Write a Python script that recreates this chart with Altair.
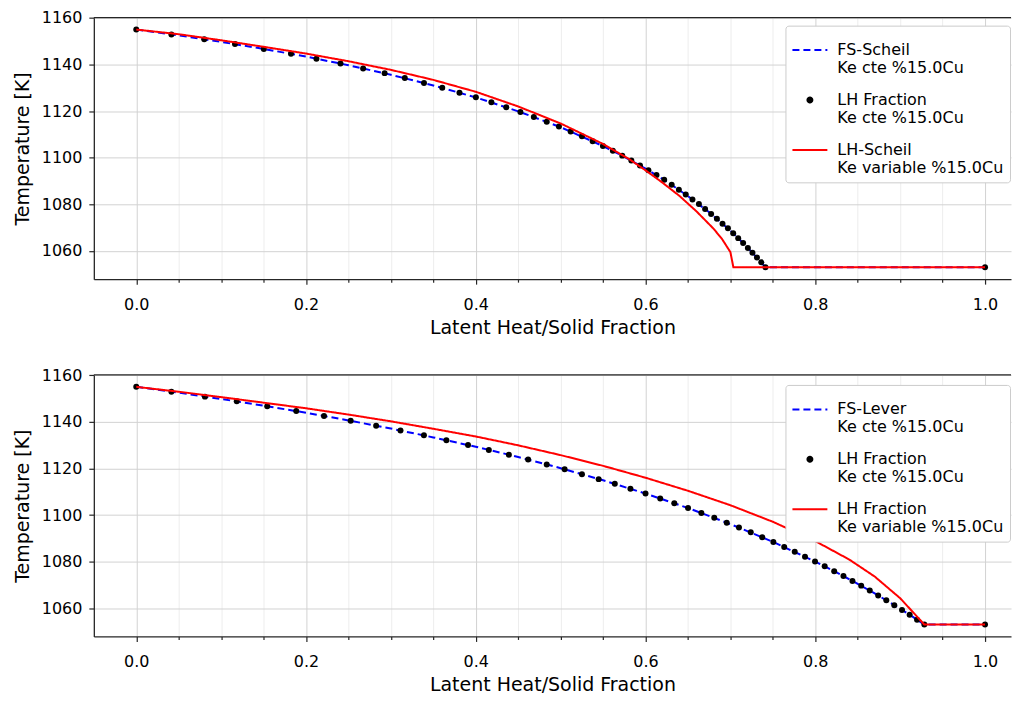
import json
import altair as alt
import pandas as pd

# ---------------- data ----------------
SERIES = ["a", "b", "c"]                      # blue dashed, black dots, red solid
COLORS = ["#0000ff", "#000000", "#ff0000"]

# temperatures of the "LH Fraction / Ke cte" dots (shared by both panels)
DOT_T = [1155.0, 1152.9, 1150.8, 1148.8, 1146.7, 1144.6, 1142.5, 1140.4, 1138.3, 1136.3,
         1134.2, 1132.1, 1130.0, 1127.9, 1125.9, 1123.8, 1121.7, 1119.6, 1117.5, 1115.4,
         1113.4, 1111.3, 1109.2, 1107.1, 1105.0, 1103.0, 1100.9, 1098.8, 1096.7, 1094.6,
         1092.6, 1090.5, 1088.4, 1086.3, 1084.2, 1082.1, 1080.1, 1078.0, 1075.9, 1073.8,
         1071.7, 1069.7, 1067.6, 1065.5, 1063.4, 1061.3, 1059.2, 1057.2, 1055.1, 1053.0,
         1053.0]

# top panel (Scheil)
TOP_DOT_FS = [0.0, 0.0414, 0.0801, 0.1163, 0.1503, 0.1823, 0.2123, 0.2406, 0.2673, 0.2926,
              0.3164, 0.3390, 0.3605, 0.3808, 0.4001, 0.4184, 0.4359, 0.4526, 0.4684, 0.4836,
              0.4980, 0.5118, 0.5251, 0.5377, 0.5498, 0.5615, 0.5726, 0.5833, 0.5935, 0.6034,
              0.6129, 0.6220, 0.6308, 0.6393, 0.6474, 0.6553, 0.6629, 0.6702, 0.6773, 0.6841,
              0.6907, 0.6971, 0.7033, 0.7092, 0.7150, 0.7206, 0.7260, 0.7313, 0.7364, 0.7413,
              1.0]
TOP_BLUE_FS = [0.0, 0.05, 0.10, 0.15, 0.20, 0.25, 0.30, 0.35, 0.40, 0.45, 0.50, 0.55,
               0.575, 0.60, 0.625, 0.65, 0.675, 0.70, 0.71, 0.72, 0.73, 0.7413, 1.0]
TOP_BLUE_T = [1155.0, 1152.5, 1149.7, 1146.7, 1143.4, 1139.7, 1135.6, 1131.0, 1125.9, 1119.9,
              1113.1, 1105.0, 1100.4, 1095.3, 1089.8, 1083.5, 1076.6, 1068.7, 1065.2, 1061.5,
              1057.6, 1053.0, 1053.0]
TOP_RED_FS = [0.0, 0.05, 0.10, 0.15, 0.20, 0.25, 0.30, 0.35, 0.40, 0.45, 0.50, 0.55,
              0.58, 0.60, 0.62, 0.64, 0.66, 0.68, 0.69, 0.70, 0.7035, 1.0]
TOP_RED_T = [1155.0, 1153.0, 1150.4, 1147.6, 1144.7, 1141.4, 1137.7, 1133.4, 1128.3, 1122.0,
             1114.7, 1105.9, 1099.6, 1094.6, 1089.3, 1083.6, 1077.0, 1069.6, 1065.2, 1059.5,
             1053.0, 1053.0]

# bottom panel (Lever)
BOT_DOT_FS = [0.0, 0.0414, 0.0809, 0.1184, 0.1543, 0.1885, 0.2212, 0.2526, 0.2826, 0.3113,
              0.3389, 0.3654, 0.3909, 0.4154, 0.4390, 0.4617, 0.4836, 0.5047, 0.5251, 0.5448,
              0.5638, 0.5822, 0.6000, 0.6173, 0.6339, 0.6501, 0.6658, 0.6810, 0.6957, 0.7101,
              0.7240, 0.7375, 0.7506, 0.7634, 0.7758, 0.7879, 0.7997, 0.8111, 0.8223, 0.8332,
              0.8438, 0.8541, 0.8642, 0.8741, 0.8837, 0.8931, 0.9022, 0.9112, 0.9199, 0.9285,
              1.0]
BOT_BLUE_FS = [0.0, 0.05, 0.10, 0.15, 0.20, 0.25, 0.30, 0.35, 0.40, 0.45, 0.50, 0.55, 0.60,
               0.65, 0.70, 0.75, 0.80, 0.825, 0.85, 0.875, 0.90, 0.915, 0.9285, 1.0]
BOT_BLUE_T = [1155.0, 1152.5, 1149.8, 1146.9, 1143.9, 1140.6, 1137.1, 1133.3, 1129.3, 1124.9,
              1120.1, 1114.9, 1109.2, 1103.0, 1096.1, 1088.5, 1080.0, 1075.4, 1070.5, 1065.3,
              1059.8, 1056.3, 1053.0, 1053.0]
BOT_RED_FS = [0.0, 0.05, 0.10, 0.15, 0.20, 0.25, 0.30, 0.35, 0.40, 0.45, 0.50, 0.55, 0.60,
              0.65, 0.70, 0.75, 0.80, 0.84, 0.87, 0.90, 0.9285, 1.0]
BOT_RED_T = [1155.0, 1152.9, 1150.6, 1148.2, 1145.8, 1143.1, 1140.2, 1137.0, 1133.7, 1129.9,
             1125.7, 1121.1, 1116.0, 1110.4, 1104.2, 1097.1, 1088.8, 1080.9, 1073.6, 1064.3,
             1053.0, 1053.0]

X_TICKS = [0.0, 0.05, 0.1, 0.15, 0.2, 0.25, 0.3, 0.35, 0.4, 0.45, 0.5, 0.55, 0.6, 0.65,
           0.7, 0.75, 0.8, 0.85, 0.9, 0.95, 1.0]
Y_TICKS = [1060, 1080, 1100, 1120, 1140, 1160]

NB = "\u00a0"
LEGEND_TOP = [["FS-Scheil", NB + "Ke cte %15.0Cu"],
              ["LH Fraction", NB + "Ke cte %15.0Cu"],
              ["LH-Scheil", NB + "Ke variable %15.0Cu"]]
LEGEND_BOTTOM = [["FS-Lever", "Ke cte %15.0Cu"],
                 ["LH Fraction", "Ke cte %15.0Cu"],
                 ["LH Fraction", "Ke variable %15.0Cu"]]

X_TITLE = "Latent Heat/Solid Fraction"
Y_TITLE = "Temperature [K]"

# ---------------- layout / style ----------------
W, H = 919, 262
X_DOMAIN = [-0.05, 1.0306]
Y_DOMAIN = [1047.9, 1160.1]
FONT = "DejaVu Sans"
FRAME = "#262626"
MAJOR = "abs(datum.value * 5 - round(datum.value * 5)) < 0.000001"
DOT_PATH = "M-0.14,0A0.14,0.14,0,1,1,0.14,0A0.14,0.14,0,1,1,-0.14,0Z"
SYMBOL_EXPR = f"datum.value == 'b' ? '{DOT_PATH}' : 'stroke'"


def label_expr(labels):
    j = [json.dumps(l, ensure_ascii=False) for l in labels]
    return f"datum.value == 'a' ? {j[0]} : datum.value == 'b' ? {j[1]} : {j[2]}"


def panel(blue_fs, blue_t, dot_fs, dot_t, red_fs, red_t, labels, lx, ly):
    blue = pd.DataFrame({"x": blue_fs, "y": blue_t, "s": "a"})
    dots = pd.DataFrame({"x": dot_fs, "y": dot_t, "s": "b"})
    red = pd.DataFrame({"x": red_fs, "y": red_t, "s": "c"})

    x_axis = alt.Axis(
        values=X_TICKS,
        labelExpr=f"{MAJOR} ? format(datum.value, '.1f') : ''",
        labelOverlap=False,
        tickSize={"condition": {"test": MAJOR, "value": 5}, "value": 3},
        gridColor={"condition": {"test": MAJOR, "value": "#d2d2d2"}, "value": "#ededed"},
        gridWidth=1,
        tickColor=FRAME, tickWidth=1.2,
        domainColor=FRAME, domainWidth=1.3,
        labelFont=FONT, labelFontSize=16, labelColor="#000000", labelPadding=12,
        title=X_TITLE, titleFont=FONT, titleFontSize=19, titleFontWeight="normal",
        titleColor="#000000", titlePadding=6,
    )
    y_axis = alt.Axis(
        values=Y_TICKS, format="d",
        gridColor="#d2d2d2", gridWidth=1,
        tickSize=5, tickColor=FRAME, tickWidth=1.2,
        domainColor=FRAME, domainWidth=1.3,
        labelFont=FONT, labelFontSize=16, labelColor="#000000", labelPadding=7,
        title=Y_TITLE, titleFont=FONT, titleFontSize=19, titleFontWeight="normal",
        titleColor="#000000", titlePadding=9,
    )
    legend = alt.Legend(
        title=None, orient="none", legendX=lx, legendY=ly,
        labelExpr=label_expr(labels),
        symbolType=alt.ExprRef(expr=SYMBOL_EXPR),
        symbolSize=1225, symbolStrokeWidth=2, symbolOpacity=1,
        labelFont=FONT, labelFontSize=16, labelColor="#000000", labelLimit=400,
        labelOffset=9, padding=6, rowPadding=5,
        strokeColor="#cccccc", fillColor="#ffffff", cornerRadius=3,
    )
    x = alt.X("x:Q", scale=alt.Scale(domain=X_DOMAIN, nice=False, zero=False), axis=x_axis)
    y = alt.Y("y:Q", scale=alt.Scale(domain=Y_DOMAIN, nice=False, zero=False), axis=y_axis)
    color = alt.Color("s:N", scale=alt.Scale(domain=SERIES, range=COLORS), legend=legend)
    dash = alt.StrokeDash("s:N", scale=alt.Scale(domain=SERIES, range=[[7, 4], [1, 0], [1, 0]]),
                          legend=legend)

    blue_line = alt.Chart(blue).mark_line(strokeWidth=2).encode(x=x, y=y, color=color, strokeDash=dash)
    dot_layer = alt.Chart(dots).mark_circle(size=36, opacity=1).encode(x=x, y=y, color=color)
    red_line = alt.Chart(red).mark_line(strokeWidth=2).encode(x=x, y=y, color=color, strokeDash=dash)
    top_edge = alt.Chart(pd.DataFrame({"k": [0]})).mark_rule(color=FRAME, strokeWidth=1.3).encode(
        x=alt.value(0), x2=alt.value(W), y=alt.value(0))

    return alt.layer(blue_line, dot_layer, red_line, top_edge).properties(width=W, height=H)


top = panel(TOP_BLUE_FS, TOP_BLUE_T, TOP_DOT_FS, DOT_T, TOP_RED_FS, TOP_RED_T, LEGEND_TOP, 693, 8)
bottom = panel(BOT_BLUE_FS, BOT_BLUE_T, BOT_DOT_FS, DOT_T, BOT_RED_FS, BOT_RED_T, LEGEND_BOTTOM, 693, 10)

chart = (
    alt.vconcat(top, bottom, spacing=28)
    .resolve_scale(x="independent", y="independent", color="independent", strokeDash="independent")
    .resolve_legend(color="independent", strokeDash="independent")
    .properties(padding={"left": 4, "right": 0, "top": 0, "bottom": 0})
    .configure(font=FONT)
    .configure_view(stroke="transparent")
)

chart.save("out.html", embed_options={"renderer": "svg", "actions": False})
